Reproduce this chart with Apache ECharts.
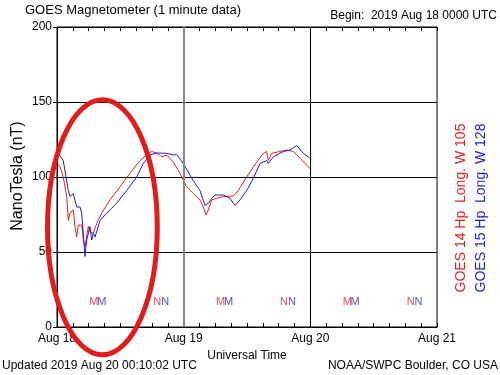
<!DOCTYPE html>
<html>
<head>
<meta charset="utf-8">
<script src="https://cdn.jsdelivr.net/npm/echarts@6/dist/echarts.min.js"></script>
<style>html,body{margin:0;padding:0;background:#fff;}#c{width:500px;height:375px;}</style>
</head>
<body>
<div id="c"></div>
<script>
// Time in hours since 2019 Aug 18 0000 UTC
const hours14 = [0,0.57,1.19,1.84,2.14,2.46,3.09,3.41,3.73,4.04,4.36,4.68,4.98,5.3,5.93,6.25,6.88,7.52,8.47,10.04,11.94,13.83,15.73,17.0,17.94,18.89,19.84,20.78,22.04,23.3,24.57,25.82,27.09,27.72,28.23,28.67,29.31,30.26,31.51,33.4,34.35,35.94,37.84,39.09,39.73,40.04,40.68,42.25,43.52,44.77,46.04,47.31,48.2];
const goes14 = [109,107,100,87,71,76,78,67,60,68,69,68,58,53.5,67,63.5,62.5,69,76,84.7,93.5,102.5,111,114.7,117,116,113.5,114.7,110,102.5,93.5,89,84.7,80,74.7,78,84.7,85.8,87,87.3,91,100,110,115.8,117,111,115.8,117,118,117,112.5,108,104.7];
const hours15 = [0,1.19,2.14,2.46,3.09,3.73,4.36,4.68,4.98,5.3,5.63,6.25,6.57,6.88,7.2,8.15,9.42,11.31,13.2,15.1,16.35,17.62,18.89,20.78,22.04,22.68,23.93,25.82,27.09,28.04,28.67,29.31,29.94,31.51,32.78,33.72,34.67,35.94,37.19,38.46,39.73,40.04,40.99,42.88,44.15,45.42,46.67,47.94,48.2];
const goes15 = [117,111,91,87,89,80,80,76,62.5,47,58,67,58,62.5,60,71,76,82.5,91,100,109,114.7,116,115.8,114.7,115,109,97.5,91,81,82.5,85.8,88,88,85.8,81,84.7,91,99,109,111,109,113.5,117,118,121,115.8,112.5,112];
// Local midnight (M) / noon (N) markers
const markHours14 = [7,19,31,43,55,67];
const markHours15 = [8.5,20.5,32.5,44.5,56.5,68.5];
const markLabels = ['M','N','M','N','M','N'];
const markLevel = 17;
const xTickLabels = ['Aug 18','Aug 19','Aug 20','Aug 21'];
const yTicks = [0,50,100,150,200];
// Hand-drawn annotation ellipse (data units)
const ellipseCenter = [8.6, 66.5];
const ellipseRadiusHours = 10.4;
const ellipseRadiusNT = 85;

const FONT = 'Liberation Sans';
const RED = '#ee1c1c', BLUE = '#1a1ae6';
const chart = echarts.init(document.getElementById('c'), null, {renderer:'canvas'});

const zip = (a,b) => a.map((h,i)=>[h,b[i]]);
const xCommon = {
  type:'value', min:0, max:72, interval:24,
  axisLine:{show:true, lineStyle:{color:'#000', width:1}},
  axisTick:{show:true, inside:true, length:4, lineStyle:{color:'#000'}},
  minorTick:{show:true, splitNumber:8, length:4, lineStyle:{color:'#000'}},
  splitLine:{show:false}
};

chart.setOption({
  animation:false,
  grid:{left:57, right:63, top:27, bottom:48, show:true, borderColor:'#000', borderWidth:1},
  xAxis:[
    Object.assign({}, xCommon, {
      position:'bottom',
      axisLabel:{show:true, margin:6, fontFamily:FONT, fontSize:12, color:'#000',
        formatter:(v)=>xTickLabels[Math.round(v/24)]},
      name:'Universal Time', nameLocation:'middle', nameGap:20,
      nameTextStyle:{fontFamily:FONT, fontSize:12, color:'#000'}
    }),
    Object.assign({}, xCommon, {position:'top', axisLabel:{show:false}})
  ],
  yAxis:{
    type:'value', min:0, max:200, interval:50,
    axisLine:{show:true, lineStyle:{color:'#000'}},
    axisTick:{show:true, length:4, lineStyle:{color:'#000'}},
    axisLabel:{margin:5, fontFamily:FONT, fontSize:12, color:'#000'},
    splitLine:{show:true, lineStyle:{color:'#000', width:1}}
  },
  series:[
    {type:'line', name:'GOES 14', data:zip(hours14,goes14), showSymbol:false, symbol:'none',
     lineStyle:{color:RED, width:1}, z:3,
     markLine:{symbol:'none', silent:true, label:{show:false},
       data:[{xAxis:24, lineStyle:{color:'#888', width:2, type:'solid'}},
             {xAxis:48, lineStyle:{color:'#000', width:1, type:'solid'}}]}},
    {type:'line', name:'GOES 15', data:zip(hours15,goes15), showSymbol:false, symbol:'none',
     lineStyle:{color:BLUE, width:1}, z:4},
    {type:'scatter', data:markHours14.map(h=>[h,markLevel]), symbolSize:0,
     label:{show:true, position:'inside', formatter:(p)=>markLabels[p.dataIndex], color:RED, fontFamily:FONT, fontSize:11}},
    {type:'scatter', data:markHours15.map(h=>[h,markLevel]), symbolSize:0,
     label:{show:true, position:'inside', formatter:(p)=>markLabels[p.dataIndex], color:BLUE, fontFamily:FONT, fontSize:11}}
  ]
});

const c0 = chart.convertToPixel({gridIndex:0}, ellipseCenter);
const cx1 = chart.convertToPixel({gridIndex:0}, [ellipseCenter[0]+ellipseRadiusHours, ellipseCenter[1]]);
const cy1 = chart.convertToPixel({gridIndex:0}, [ellipseCenter[0], ellipseCenter[1]+ellipseRadiusNT]);

chart.setOption({
  graphic:[
    {type:'text', left:25, top:4, style:{text:'GOES Magnetometer (1 minute data)', font:'13px "'+FONT+'"', fill:'#000'}},
    {type:'text', right:3, top:10, style:{text:'Begin:  2019 Aug 18 0000 UTC', font:'12px "'+FONT+'"', fill:'#000'}},
    {type:'text', left:2, top:360, style:{text:'Updated 2019 Aug 20 00:10:02 UTC', font:'12px "'+FONT+'"', fill:'#000'}},
    {type:'text', right:2, top:360, style:{text:'NOAA/SWPC Boulder, CO USA', font:'12px "'+FONT+'"', fill:'#000'}},
    {type:'text', x:18, y:176, rotation:Math.PI/2,
     style:{text:'NanoTesla (nT)', font:'16px "'+FONT+'"', fill:'#000', align:'center', verticalAlign:'middle'}},
    {type:'text', x:461, y:208, rotation:Math.PI/2,
     style:{text:'GOES 14 Hp  Long. W 105', font:'14px "'+FONT+'"', fill:RED, align:'center', verticalAlign:'middle'}},
    {type:'text', x:481, y:208, rotation:Math.PI/2,
     style:{text:'GOES 15 Hp  Long. W 128', font:'14px "'+FONT+'"', fill:BLUE, align:'center', verticalAlign:'middle'}},
    {type:'ellipse', z:100, silent:true,
     shape:{cx:c0[0], cy:c0[1], rx:Math.abs(cx1[0]-c0[0]), ry:Math.abs(c0[1]-cy1[1])},
     style:{fill:'none', stroke:'#e31b1b', lineWidth:5}}
  ]
});
</script>
</body>
</html>
